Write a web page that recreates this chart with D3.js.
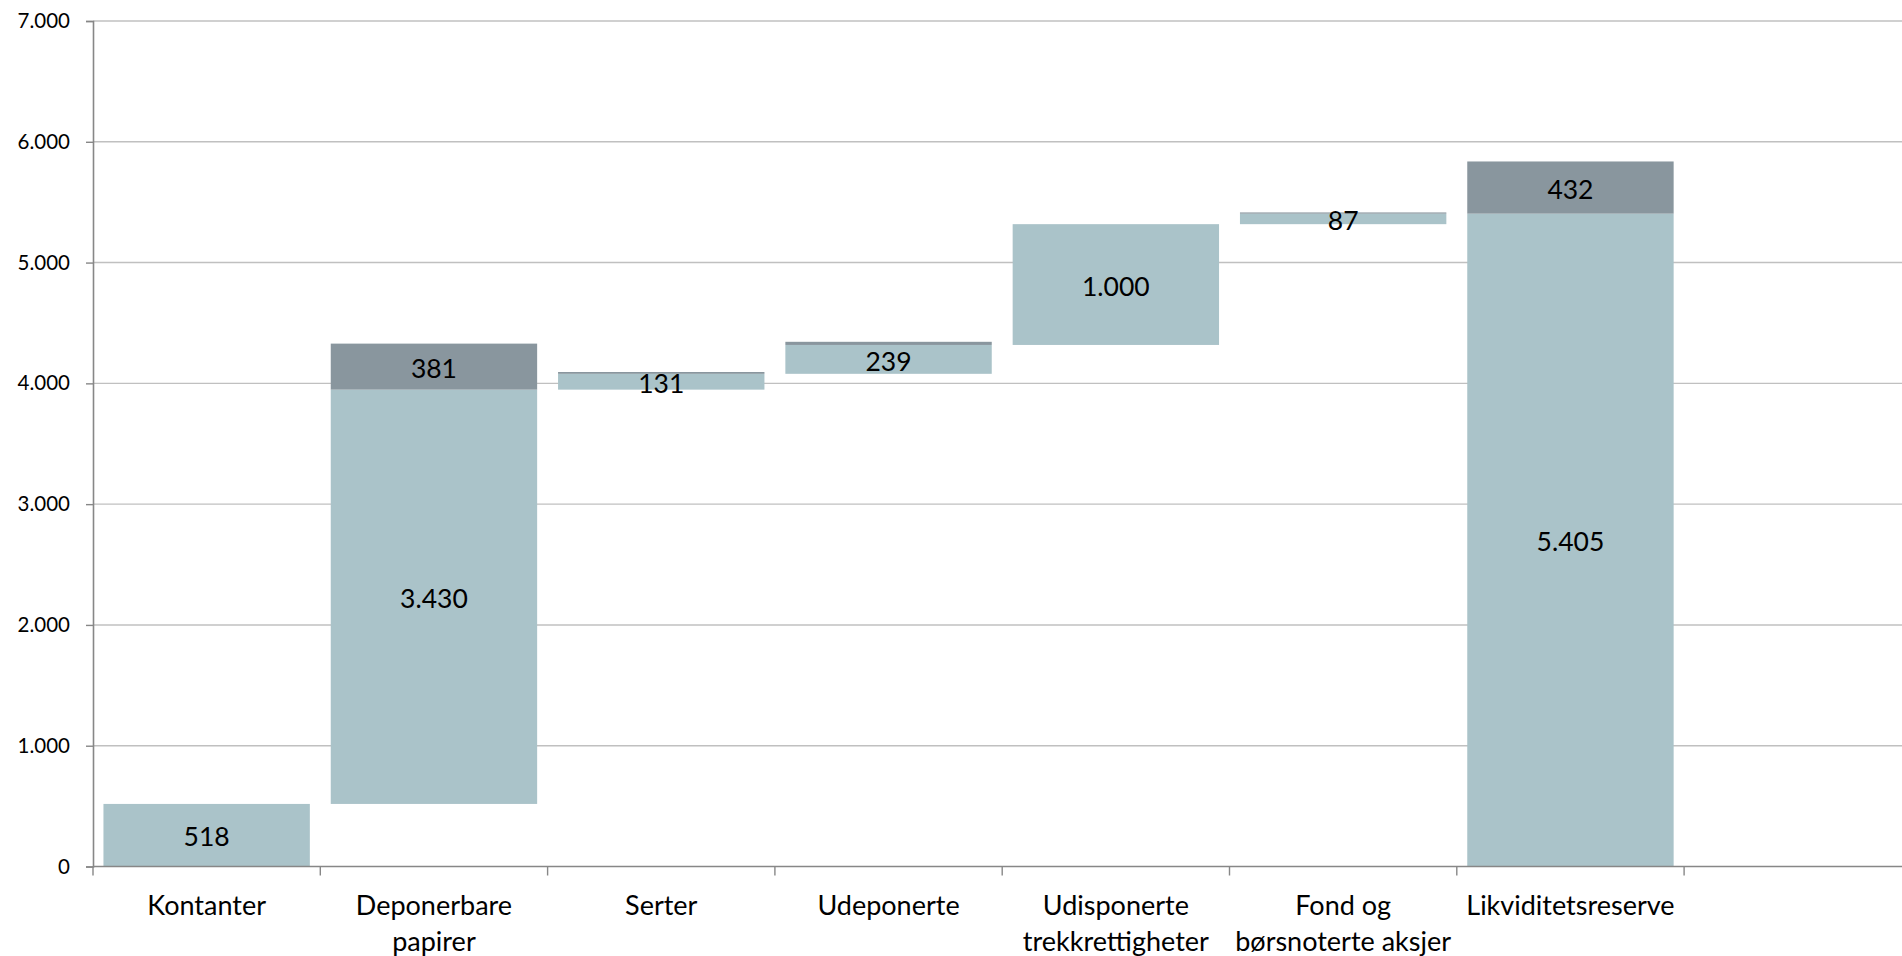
<!DOCTYPE html>
<html>
<head>
<meta charset="utf-8">
<script src="https://cdn.jsdelivr.net/npm/d3@7"></script>
<style>
  html, body { margin: 0; padding: 0; background: #fff; }
  svg { display: block; font-family: Lato, 'Open Sans', sans-serif; }
</style>
</head>
<body>
<div id="vis"></div>
<script>
'use strict';

// Categories (split into lines as on the axis)
const categoryLines = [
  ['Kontanter'],
  ['Deponerbare', 'papirer'],
  ['Serter'],
  ['Udeponerte'],
  ['Udisponerte', 'trekkrettigheter'],
  ['Fond og', 'børsnoterte aksjer'],
  ['Likviditetsreserve']
];
const categories = categoryLines.map(d => d.join(' '));

// Light part of each bar (the step) and dark part stacked on top of it
const lightValues = [518, 3430, 131, 239, 1000, 87, 5405];
const darkValues = [0, 381, 15, 26, 0, 10, 432];
// Last bar is the total, it starts from zero
const isTotal = [false, false, false, false, false, false, true];

const yTicks = [0, 1000, 2000, 3000, 4000, 5000, 6000, 7000];

// Constants for sizing
const width = 1902;
const height = 956;
const margin = { top: 21, left: 93, bottom: 89.5 };

const lightColor = '#aac3c9';
const darkColor = '#89969e';

// Norwegian number format: 5.405
const nb = d3.formatLocale({ decimal: ',', thousands: '.', grouping: [3], currency: ['', ''] });
const fmt = nb.format(',d');

// build waterfall rows
let running = 0;
const rows = categories.map(function (c, i) {
  const base = isTotal[i] ? 0 : running;
  if (!isTotal[i]) { running += lightValues[i]; }
  return {
    cat: c,
    lines: categoryLines[i],
    base: base,
    light: lightValues[i],
    dark: darkValues[i]
  };
});

const svg = d3.select('#vis')
  .append('svg')
  .attr('width', width)
  .attr('height', height);

// one empty slot at the right end, the plot runs past the window edge
const slots = categories.concat(['']);
const bandW = 227.3;
const x = d3.scaleBand()
  .domain(slots)
  .range([margin.left, margin.left + bandW * slots.length])
  .padding(0);

const y = d3.scaleLinear()
  .domain([0, 7000])
  .range([height - margin.bottom, margin.top]);

// gridlines
svg.append('g')
  .selectAll('line')
  .data(yTicks.slice(1))
  .join('line')
  .attr('x1', margin.left)
  .attr('x2', width)
  .attr('y1', d => y(d))
  .attr('y2', d => y(d))
  .attr('stroke', '#c0c0c0')
  .attr('stroke-width', 1.4);

// bars
const inset = bandW * 0.046;
const barG = svg.append('g');

barG.selectAll('rect.light')
  .data(rows)
  .join('rect')
  .attr('class', 'light')
  .attr('x', d => x(d.cat) + inset)
  .attr('width', x.bandwidth() - inset * 2)
  .attr('y', d => y(d.base + d.light))
  .attr('height', d => y(d.base) - y(d.base + d.light))
  .attr('fill', lightColor);

barG.selectAll('rect.dark')
  .data(rows.filter(d => d.dark > 0))
  .join('rect')
  .attr('class', 'dark')
  .attr('x', d => x(d.cat) + inset)
  .attr('width', x.bandwidth() - inset * 2)
  .attr('y', d => y(d.base + d.light + d.dark))
  .attr('height', d => y(d.base + d.light) - y(d.base + d.light + d.dark))
  .attr('fill', darkColor);

// data labels
const labels = [];
rows.forEach(function (d) {
  labels.push({ cat: d.cat, v: d.light, mid: d.base + d.light / 2 });
  if (d.dark > 100) {
    labels.push({ cat: d.cat, v: d.dark, mid: d.base + d.light + d.dark / 2 });
  }
});

svg.append('g')
  .selectAll('text')
  .data(labels)
  .join('text')
  .attr('x', d => x(d.cat) + x.bandwidth() / 2)
  .attr('y', d => y(d.mid))
  .attr('dy', '0.42em')
  .attr('text-anchor', 'middle')
  .style('font-size', '26.5px')
  .attr('fill', '#000')
  .text(d => fmt(d.v));

// y axis
const yAxis = svg.append('g')
  .attr('transform', `translate(${margin.left},0)`)
  .call(d3.axisLeft(y).tickValues(yTicks).tickFormat(fmt).tickSize(7).tickPadding(16));
yAxis.select('.domain').attr('stroke', '#878787').attr('stroke-width', 1.6);
yAxis.selectAll('.tick line').attr('stroke', '#878787').attr('stroke-width', 1.4);
yAxis.selectAll('.tick text')
  .style('font-size', '20.5px')
  .style('font-family', 'Lato, sans-serif')
  .attr('fill', '#000');

// x axis line with ticks at the band boundaries
const xAxisG = svg.append('g');
xAxisG.append('line')
  .attr('x1', margin.left)
  .attr('x2', width)
  .attr('y1', y(0))
  .attr('y2', y(0))
  .attr('stroke', '#878787')
  .attr('stroke-width', 1.6);

xAxisG.selectAll('line.tick')
  .data(slots)
  .join('line')
  .attr('class', 'tick')
  .attr('x1', d => x(d))
  .attr('x2', d => x(d))
  .attr('y1', y(0))
  .attr('y2', y(0) + 9)
  .attr('stroke', '#878787')
  .attr('stroke-width', 1.4);

// category labels
const catText = xAxisG.selectAll('text')
  .data(rows)
  .join('text')
  .attr('text-anchor', 'middle')
  .style('font-size', '27px')
  .attr('fill', '#000')
  .attr('transform', d => `translate(${x(d.cat) + x.bandwidth() / 2},${y(0) + 48})`);

catText.selectAll('tspan')
  .data(d => d.lines)
  .join('tspan')
  .attr('x', 0)
  .attr('y', (d, i) => i * 36)
  .text(d => d);
</script>
</body>
</html>
